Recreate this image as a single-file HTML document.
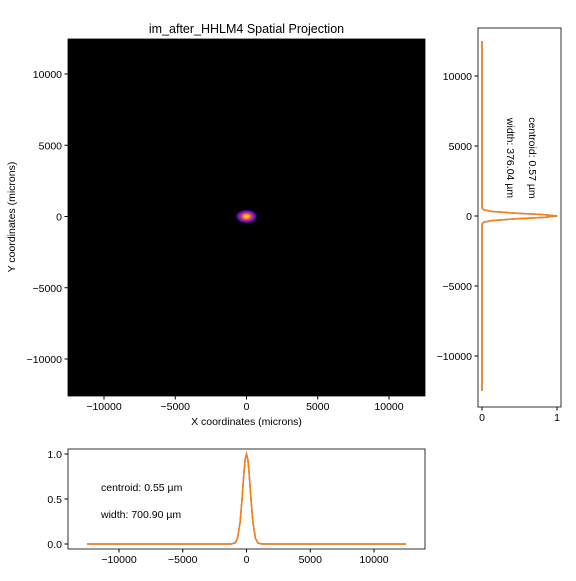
<!DOCTYPE html>
<html><head><meta charset="utf-8"><style>
body{margin:0;background:#fff;font-family:"Liberation Sans",sans-serif;}
svg text{font-family:"Liberation Sans",sans-serif;font-size:10.5px;fill:#000;}
</style></head><body>
<svg id="c" width="576" height="576" xmlns="http://www.w3.org/2000/svg">
<defs><radialGradient id="blob" cx="50%" cy="50%" r="50%">
<stop offset="0" stop-color="#fff36a"/><stop offset="0.3" stop-color="#f08a10"/><stop offset="0.55" stop-color="#c020a0"/><stop offset="0.8" stop-color="#5a10b0"/><stop offset="1" stop-color="#000"/></radialGradient></defs>
<text x="246.5" y="33" text-anchor="middle" style="font-size:12.5px">im_after_HHLM4 Spatial Projection</text>
<rect x="68" y="39" width="357" height="357" fill="#000"/>
<ellipse cx="246.5" cy="216.5" rx="11" ry="7" fill="url(#blob)"/>
<rect x="68" y="39" width="357" height="357" fill="none" stroke="#000" stroke-width="0.8"/>
<text x="246.5" y="425" text-anchor="middle">X coordinates (microns)</text>
<text transform="translate(15,217) rotate(-90)" text-anchor="middle">Y coordinates (microns)</text>
<rect x="478" y="28" width="83" height="379" fill="none" stroke="#000" stroke-width="0.8"/>
<text transform="translate(529,158) rotate(90)" text-anchor="middle">centroid: 0.57 µm</text>
<text transform="translate(507,158) rotate(90)" text-anchor="middle">width: 376.04 µm</text>
<rect x="68" y="449" width="357" height="100" fill="none" stroke="#000" stroke-width="0.8"/>
<text x="101" y="491">centroid: 0.55 µm</text>
<text x="101" y="518">width: 700.90 µm</text>
<g id="g"></g>
</svg>
<script>
const imgTicks=[-10000,-5000,0,5000,10000];
const imgTickLabels=["−10000","−5000","0","5000","10000"];
const profTicks=[0,0.5,1.0];
const profTickLabels=["0.0","0.5","1.0"];
const rightXTicks=[0,1];
const rightXLabels=["0","1"];
const bottomX=[-12500,-1200,-900,-700,-500,-350,-200,-100,0,100,200,350,500,700,900,1200,12500];
const bottomY=[0,0,0.011,0.064,0.245,0.5,0.8,0.945,1,0.945,0.8,0.5,0.245,0.064,0.011,0,0];
const rightY=[-12500,-600,-450,-320,-200,-100,0,100,200,320,450,600,12500];
const rightX=[0,0,0.019,0.135,0.46,0.82,1,0.82,0.46,0.135,0.019,0,0];
const NS="http://www.w3.org/2000/svg";
const g=document.getElementById('g');
function el(t,a){const e=document.createElementNS(NS,t);for(const k in a)e.setAttribute(k,a[k]);g.appendChild(e);return e;}
const ix=v=>246.5+v*0.01425, iy=v=>216.5-v*0.01425;
const rx=v=>482+v*75, ry=v=>216-v*0.014;
const bx=v=>246.5+v*0.01275, by=v=>544-v*90;
imgTicks.forEach((t,i)=>{
 let l=el('line',{x1:ix(t),x2:ix(t),y1:396,y2:399.5,stroke:'#000'});
 
 let tx=el('text',{x:ix(t),y:410,'text-anchor':'middle'});tx.textContent=imgTickLabels[i];
 
 l=el('line',{x1:64.5,x2:68,y1:iy(t),y2:iy(t),stroke:'#000'});
 
 tx=el('text',{x:62,y:iy(t)+4,'text-anchor':'end'});tx.textContent=imgTickLabels[i];
 
 l=el('line',{x1:474.5,x2:478,y1:ry(t),y2:ry(t),stroke:'#000'});
 
 tx=el('text',{x:472,y:ry(t)+4,'text-anchor':'end'});tx.textContent=imgTickLabels[i];
 
 l=el('line',{x1:bx(t),x2:bx(t),y1:549,y2:552.5,stroke:'#000'});
 
 tx=el('text',{x:bx(t),y:563,'text-anchor':'middle'});tx.textContent=imgTickLabels[i];
 
});
rightXTicks.forEach((t,i)=>{
 const l=el('line',{x1:rx(t),x2:rx(t),y1:407,y2:410.5,stroke:'#000'});
 
 const tx=el('text',{x:rx(t),y:421,'text-anchor':'middle'});tx.textContent=rightXLabels[i];
 
});
profTicks.forEach((t,i)=>{
 const l=el('line',{x1:64.5,x2:68,y1:by(t),y2:by(t),stroke:'#000'});
 
 const tx=el('text',{x:62,y:by(t)+4,'text-anchor':'end'});tx.textContent=profTickLabels[i];
 
});
const bp=bottomX.map((x,i)=>bx(x).toFixed(2)+','+by(bottomY[i]).toFixed(2)).join(' ');
let p=el('polyline',{points:bp,fill:'none',stroke:'#1f77b4','stroke-width':1.5});

p=el('polyline',{points:bp,fill:'none',stroke:'#ff7f0e','stroke-width':1.5});

const rp=rightY.map((y,i)=>rx(rightX[i]).toFixed(2)+','+ry(y).toFixed(2)).join(' ');
p=el('polyline',{points:rp,fill:'none',stroke:'#1f77b4','stroke-width':1.5});

p=el('polyline',{points:rp,fill:'none',stroke:'#ff7f0e','stroke-width':1.5});

</script>
</body></html>
